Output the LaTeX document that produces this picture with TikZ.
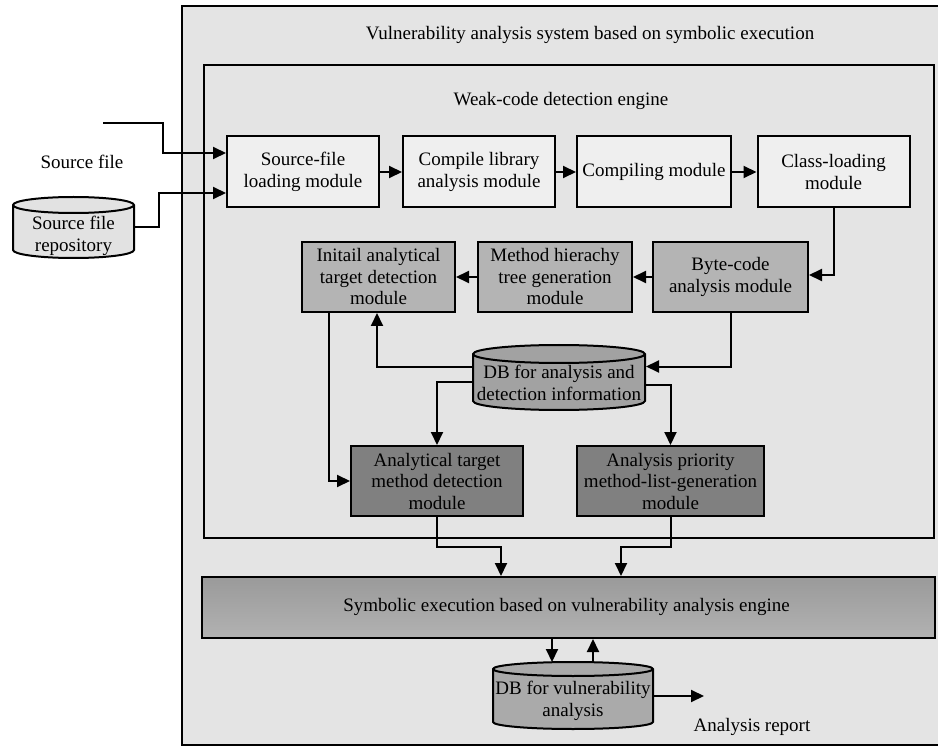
\documentclass[tikz,border=0pt]{standalone}
\usepackage{fontspec}
\setmainfont{Liberation Serif}
\usetikzlibrary{arrows.meta,calc}
\definecolor{bgc}{HTML}{E4E4E4}
\definecolor{rowa}{HTML}{EFEFEF}
\definecolor{rowb}{HTML}{B4B4B4}
\definecolor{rowc}{HTML}{808080}
\definecolor{dbone}{HTML}{A2A2A2}
\definecolor{dbtwo}{HTML}{AAAAAA}
\definecolor{repoc}{HTML}{E2E2E2}
\definecolor{symtop}{HTML}{9A9A9A}
\definecolor{symbot}{HTML}{B2B2B2}
\newcommand\mycyl[6]{%
  \filldraw[fill=#6, line width=2pt] (#1-#4,#2) -- (#1-#4,#3)
    arc[start angle=180,end angle=0,x radius=#4,y radius=#5]
    -- (#1+#4,#2) arc[start angle=0,end angle=-180,x radius=#4,y radius=#5] -- cycle;
  \draw[line width=2pt] (#1-#4,#2) arc[start angle=180,end angle=0,x radius=#4,y radius=#5];}
\begin{document}
\begin{tikzpicture}[x=1pt,y=-1pt,line width=2pt,
  every node/.style={font=\fontsize{19}{21.5}\selectfont, align=center},
  arr/.style={-{Triangle[length=13pt,width=12pt]}, line width=2pt},
  boxa/.style={draw, fill=rowa, line width=2pt, minimum width=152pt, minimum height=71pt, inner sep=0pt},
  boxb/.style={draw, fill=rowb, line width=2pt, minimum width=153pt, minimum height=70pt, inner sep=0pt},
  boxc/.style={draw, fill=rowc, line width=2pt, minimum height=70pt, inner sep=0pt},
  hold/.style={minimum height=#1, inner sep=0pt}]
\useasboundingbox (0,0) rectangle (938,746);
\begin{scope}
  \clip (0,0) rectangle (938,746);
  \node[draw, fill=bgc, minimum width=770pt, minimum height=739pt, inner sep=0pt] (sys) at (567,375.5) {};
\end{scope}
\node (systitle) at (590,35) {Vulnerability analysis system based on symbolic execution};
\node[draw, fill=bgc, minimum width=730pt, minimum height=473pt, inner sep=0pt] (engine) at (569,301.5) {};
\node (enginetitle) at (561,101) {Weak-code detection engine};

% row 1
\node[boxa] (src) at (303,172) {Source-file\\loading module};
\node[boxa] (lib) at (479,172) {Compile library\\analysis module};
\node[boxa, minimum width=154pt] (cmp) at (654,172) {Compiling module};
\node[boxa] (cls) at (833.5,172) {Class-loading\\module};
% row 2
\node[boxb] (init) at (378.5,277) {Initail analytical\\target detection\\module};
\node[boxb, minimum width=154pt] (mht) at (555,277) {Method hierachy\\tree generation\\module};
\node[boxb, minimum width=155pt] (byte) at (730.5,277) {Byte-code\\analysis module};
% DB 1
\mycyl{559}{354}{401}{86}{9}{dbone}
\node[hold=66pt, minimum width=172pt] (db1) at (559,377.5) {};
\node (db1t) at (559,383) {DB for analysis and\\detection information};
% row 3
\node[boxc, minimum width=172pt] (anal) at (437,481) {Analytical target\\method detection\\module};
\node[boxc, minimum width=187pt] (prio) at (670.5,481) {Analysis priority\\method-list-generation\\module};
% symbolic engine
\node[draw, line width=2pt, top color=symtop, bottom color=symbot, minimum width=733pt, minimum height=61pt, inner sep=0pt] (sym) at (568.5,607.5) {};
\node (symt) at (566.5,607) {Symbolic execution based on vulnerability analysis engine};
% DB 2
\mycyl{573}{669}{722}{80}{7}{dbtwo}
\node[hold=66pt, minimum width=160pt] (db2) at (573,696) {};
\node (db2t) at (573,701) {DB for vulnerability\\analysis};
\node (report) at (752,727) {Analysis report};
% left side
\node (srcfile) at (82,162) {Source file};
\mycyl{73.5}{205}{250}{60.5}{8}{repoc}
\node[hold=61pt, minimum width=121pt] (repo) at (73.5,227.5) {};
\node (repot) at (73.5,236) {Source file\\repository};
\coordinate (srcin) at (103,123);

% connectors
\draw[arr] (srcin) -- ++(60,0) |- ([yshift=19pt]src.west);
\draw[arr] (repo.east) -- ++(24,0) |- ([yshift=-21pt]src.west);
\draw[arr] (src) -- (lib);
\draw[arr] (lib) -- (cmp);
\draw[arr] (cmp) -- (cls);
\draw[arr] (cls.south) |- ([yshift=2pt]byte.east);
\draw[arr] (byte) -- (mht);
\draw[arr] (mht) -- (init);
\draw[arr] (byte.south) |- ([yshift=11pt]db1.east);
\draw[arr] ([yshift=11pt]db1.west) -| ([xshift=-1.5pt]init.south);
\draw[arr] ([xshift=28pt]init.south west) |- (anal.west);
\draw[arr] ([yshift=-4.5pt]db1.west) -| (anal.north);
\draw[arr] ([yshift=-7.5pt]db1.east) -| (prio.north);
\draw[arr] (anal.south) -- ++(0,30) -| ([xshift=-67.5pt]sym.north);
\draw[arr] (prio.south) -- ++(0,30) -| ([xshift=52.5pt]sym.north);
\draw[arr] ([xshift=-16.5pt]sym.south) -- ([xshift=-21pt]db2.north);
\draw[arr] ([xshift=20pt]db2.north) -- ([xshift=24.5pt]sym.south);
\draw[arr] (db2.east) -- ++(50,0);
\end{tikzpicture}
\end{document}
